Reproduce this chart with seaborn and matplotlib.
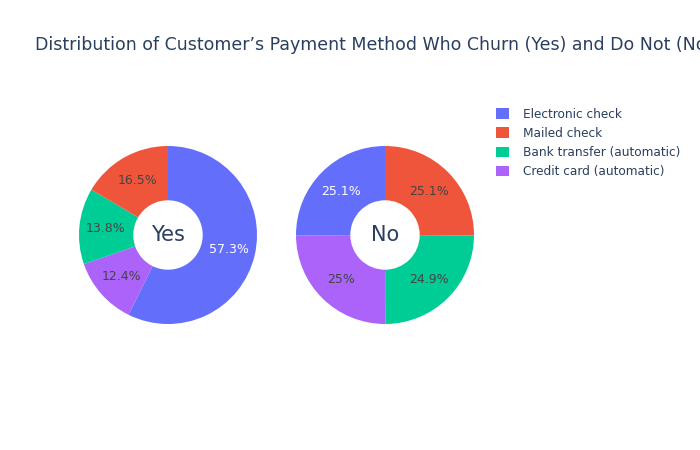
import matplotlib
matplotlib.use('Agg')
import numpy as np
import matplotlib.pyplot as plt
import seaborn as sns
from matplotlib.patches import Patch

# payment methods and share of customers (%) per churn group
methods = ['Electronic check', 'Mailed check', 'Bank transfer (automatic)', 'Credit card (automatic)']
churn_yes = [57.3, 16.5, 13.8, 12.4]
churn_no = [25.1, 25.1, 24.9, 25.0]
groups = ['Yes', 'No']

# slice order going clockwise from 12 o'clock, as in the reference
yes_order = [0, 3, 2, 1]
no_order = [1, 2, 3, 0]

sns.set_theme(style='white')
plt.rcParams['font.family'] = ['DejaVu Sans']
colors = sns.color_palette(['#636efa', '#EF553B', '#00cc96', '#ab63fa'])
title_col = '#2a3f5f'

fig = plt.figure(figsize=(7, 4.5), dpi=100)
fig.patch.set_facecolor('white')


def fmt(v, total):
    p = round(100 * v / total, 1)
    return f'{p:g}%'


def donut(ax, vals, order, name):
    total = sum(vals)
    v = [vals[i] for i in order]
    c = [colors[i] for i in order]
    wedges, _ = ax.pie(v, colors=c, startangle=90, counterclock=False,
                       wedgeprops=dict(width=0.61, linewidth=0))
    for w, i in zip(wedges, order):
        th = np.radians((w.theta1 + w.theta2) / 2)
        r = 0.70
        tc = 'white' if i == 0 else '#444444'
        ax.text(r * np.cos(th), r * np.sin(th), fmt(vals[i], total),
                ha='center', va='center', fontsize=9, color=tc)
    ax.text(0, 0, name, ha='center', va='center', fontsize=15, color=title_col)
    ax.set_xlim(-1, 1)
    ax.set_ylim(-1, 1)
    ax.set_aspect('equal')
    ax.axis('off')


W, H = 700, 450
R = 89
for (cx, cy), vals, order, name in [((168, 235), churn_yes, yes_order, groups[0]),
                                    ((385, 235), churn_no, no_order, groups[1])]:
    ax = fig.add_axes([(cx - R) / W, 1 - (cy + R) / H, 2 * R / W, 2 * R / H])
    donut(ax, vals, order, name)

# the title runs past the right edge in the reference too
fig.text(35 / W, 1 - 45 / H, 'Distribution of Customer\u2019s Payment Method Who Churn (Yes) and Do Not (No)',
         fontsize=12.55, color=title_col, ha='left', va='center')

handles = [Patch(facecolor=colors[i], edgecolor='none') for i in range(len(methods))]
leg = fig.legend(handles, methods, loc='upper left', bbox_to_anchor=(496 / W, 1 - 108 / H),
                 frameon=False, fontsize=8.7, handlelength=1.05, handleheight=1.0,
                 handletextpad=1.2, labelspacing=0.5, borderpad=0, borderaxespad=0)
for t in leg.get_texts():
    t.set_color(title_col)

fig.savefig('out.png', dpi=100)
